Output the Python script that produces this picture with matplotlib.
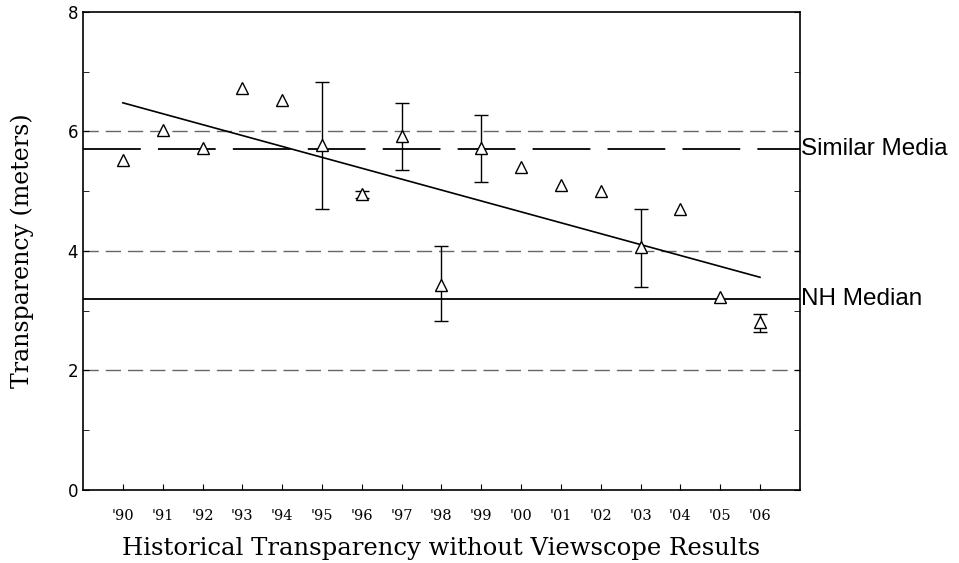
import matplotlib.pyplot as plt
import numpy as np

# Data
years = [90, 91, 92, 93, 94, 95, 96, 97, 98, 99, 100, 101, 102, 103, 104, 105, 106]
year_labels = ["'90", "'91", "'92", "'93", "'94", "'95", "'96", "'97", "'98", "'99",
               "'00", "'01", "'02", "'03", "'04", "'05", "'06"]
transparency = [5.52, 6.03, 5.72, 6.73, 6.53, 5.77, 4.95, 5.92, 3.43, 5.72,
                5.40, 5.10, 5.00, 4.07, 4.70, 3.23, 2.81]
err_low = [0, 0, 0, 0, 0, 1.07, 0.06, 0.57, 0.61, 0.57, 0, 0, 0, 0.67, 0, 0, 0.16]
err_high = [0, 0, 0, 0, 0, 1.06, 0.06, 0.56, 0.65, 0.55, 0, 0, 0, 0.63, 0, 0, 0.14]

trend_years = [90, 106]
trend_values = [6.48, 3.56]

similar_media = 5.7
nh_median = 3.2
grid_levels = [2, 4, 6]

fig = plt.figure(figsize=(9.59, 5.63), dpi=100)
ax = fig.add_axes([0.0866, 0.1297, 0.7474, 0.849])

# dashed reference grid
for g in grid_levels:
    ax.axhline(g, color='#666666', lw=1.0, ls=(0, (11, 5)), zorder=1)

# Similar Media (long dash) and NH Median (solid)
ax.axhline(similar_media, color='black', lw=1.3, ls=(0, (32, 9.5)), zorder=2)
ax.axhline(nh_median, color='black', lw=1.3, zorder=2)

# regression line
ax.plot(trend_years, trend_values, color='black', lw=1.2, zorder=3)

# error bars where present
yerr = np.array([err_low, err_high])
has_err = (yerr.sum(axis=0) > 0)
x = np.array(years)
y = np.array(transparency)
ax.errorbar(x[has_err], y[has_err], yerr=yerr[:, has_err], fmt='none',
            ecolor='black', elinewidth=1.0, capsize=5, capthick=1.0, zorder=4)

# open triangle markers
ax.plot(years, transparency, ls='none', marker='^', ms=8.5, mfc='white',
        mec='black', mew=1.0, zorder=5)

ax.set_xlim(89, 107)
ax.set_ylim(0, 8)
ax.set_xticks(years)
ax.set_xticklabels(year_labels, family='DejaVu Serif', fontsize=10.5)
ax.set_yticks([0, 2, 4, 6, 8])
ax.set_yticks([1, 3, 5, 7], minor=True)
ax.set_yticklabels(['0', '2', '4', '6', '8'], family='DejaVu Sans', fontsize=12)
ax.tick_params(axis='y', which='both', direction='in', right=True, length=4)
ax.tick_params(axis='x', direction='in', length=4, pad=14)

for s in ax.spines.values():
    s.set_linewidth(1.2)

ax.set_ylabel('Transparency (meters)', family='DejaVu Serif', fontsize=17, labelpad=24)
ax.set_xlabel('Historical Transparency without Viewscope Results',
              family='DejaVu Serif', fontsize=17.5, labelpad=10)

# right-side labels
ax.text(1.002, similar_media, 'Similar Media', transform=ax.get_yaxis_transform(),
        va='center', ha='left', fontsize=17.5, family='Liberation Sans')
ax.text(1.002, nh_median, 'NH Median', transform=ax.get_yaxis_transform(),
        va='center', ha='left', fontsize=17.5, family='Liberation Sans')

fig.savefig('out.png', dpi=100)
